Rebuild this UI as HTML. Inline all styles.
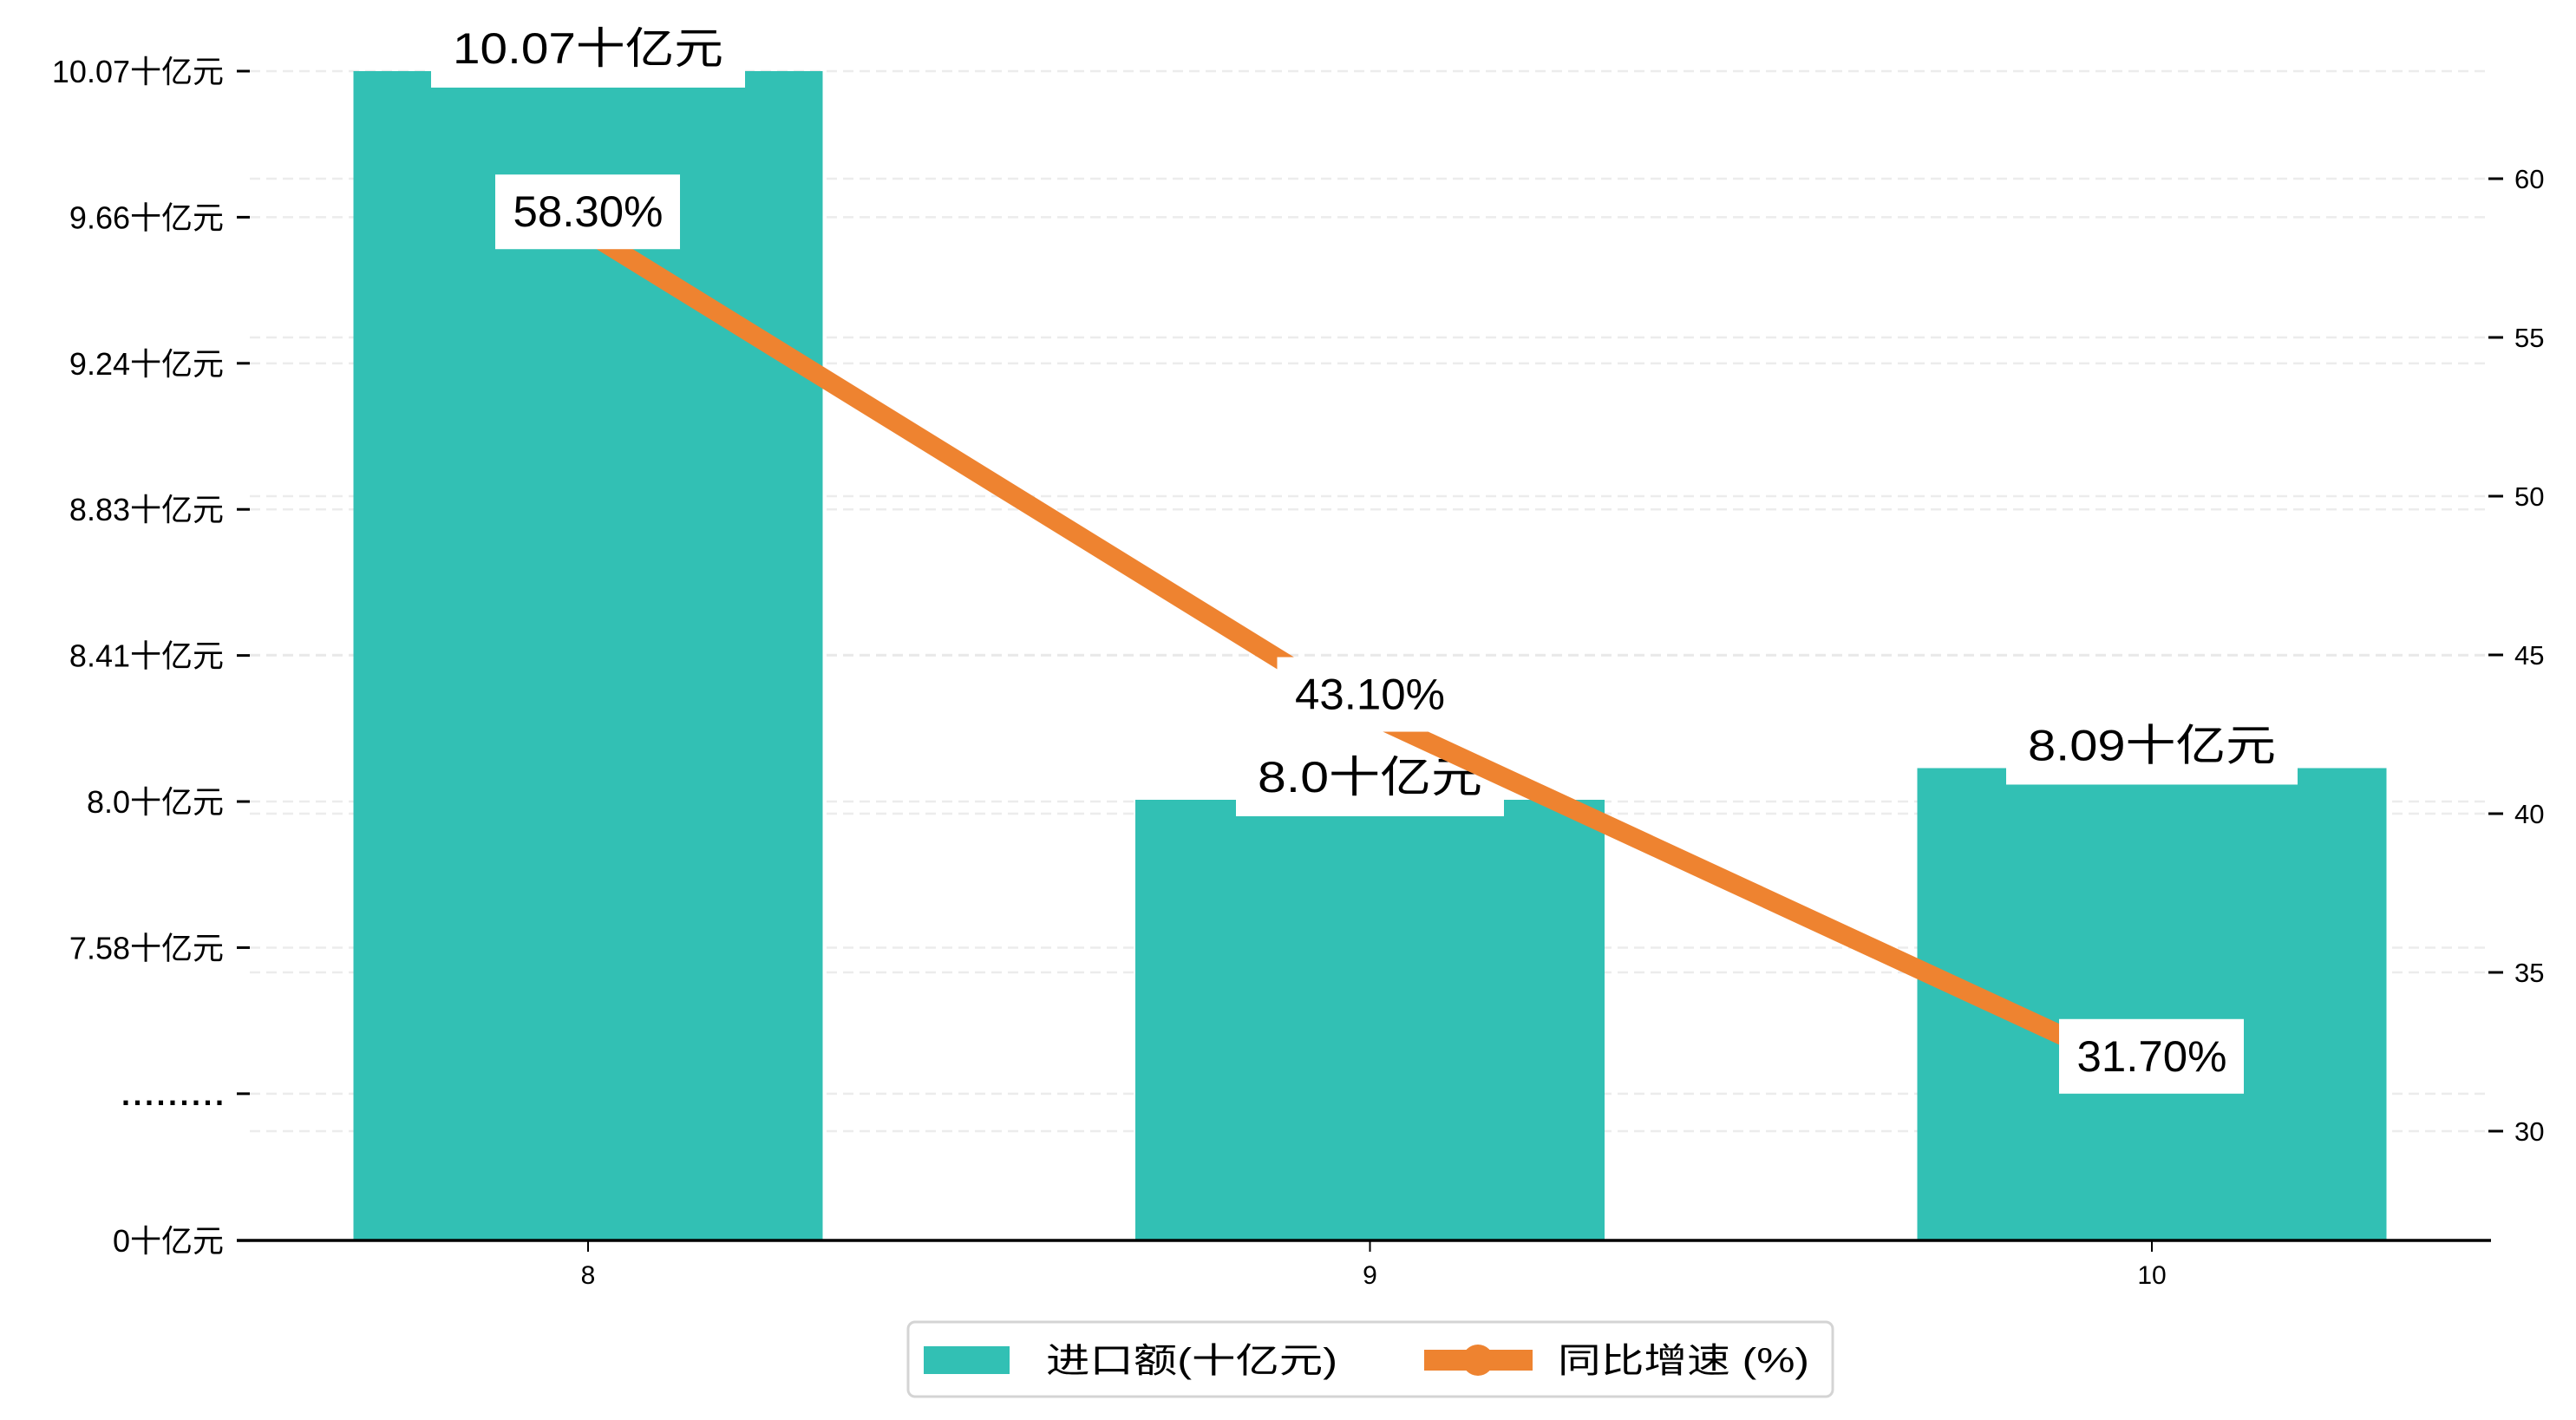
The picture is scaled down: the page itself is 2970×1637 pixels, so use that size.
<!DOCTYPE html>
<html><head><meta charset="utf-8"><style>
html,body{margin:0;padding:0;background:#fff;}
svg text{font-family:"Liberation Sans","Noto Sans CJK SC",sans-serif;fill:#000;}
</style></head><body>
<svg id="chart" xmlns="http://www.w3.org/2000/svg" width="2970" height="1632" viewBox="0 0 2970 1632">
<rect width="2970" height="1632" fill="#fff"/>
<g id="grid"></g><g id="bars"></g><g id="barlabels"></g><g id="line"></g><g id="pctlabels"></g><g id="axes"></g>
<g id="legend">
  <rect x="1047" y="1524" width="1066" height="86" rx="8" fill="#fff" stroke="#d4d4d4" stroke-width="3"/>
  <rect x="1065" y="1552" width="99" height="32" fill="#32C0B4"/>
  <text x="1206" y="1582" font-size="40" textLength="336" lengthAdjust="spacingAndGlyphs">进口额(十亿元)</text>
  <rect x="1642" y="1556" width="125" height="24" fill="#EE8330"/>
  <circle cx="1704" cy="1568" r="18" fill="#EE8330"/>
  <text x="1796" y="1582" font-size="40" textLength="290" lengthAdjust="spacingAndGlyphs">同比增速 (%)</text>
</g>
</svg>
<script>
const categories = ["8","9","10"];
const importValues = [10.07, 8.0, 8.09];
const barValueLabels = ["10.07十亿元","8.0十亿元","8.09十亿元"];
const yoyValues = [58.3, 43.1, 31.7];
const leftTickValues = [10.07, 9.655, 9.24, 8.825, 8.41, 7.995, 7.58, 7.165, 6.748];
const leftTickLabels = ["10.07十亿元","9.66十亿元","9.24十亿元","8.83十亿元","8.41十亿元","8.0十亿元","7.58十亿元",".........","0十亿元"];
const rightTickValues = [30, 35, 40, 45, 50, 55, 60];

const NS="http://www.w3.org/2000/svg";
function mk(tag, attrs, parent){const e=document.createElementNS(NS,tag);for(const k in attrs)e.setAttribute(k,attrs[k]);parent.appendChild(e);return e;}
const xPos = i => 678 + i*901.5;
const yL = v => 82 + (10.07 - v) * 405.8;
const yR = v => 1304 - (v - 30) * 36.6;
const BW = 541, BASE = 1430;
const G=id=>document.getElementById(id);

leftTickValues.slice(0,8).forEach(v=>{
  const l=mk('line',{x1:288,x2:2872,y1:yL(v),y2:yL(v),stroke:'#e8e8e8','stroke-width':2.5,'stroke-dasharray':'12 7',opacity:0.8},G('grid'));
  
  
});
rightTickValues.forEach(v=>{
  const l=mk('line',{x1:288,x2:2872,y1:yR(v),y2:yR(v),stroke:'#e8e8e8','stroke-width':2.5,'stroke-dasharray':'12 7',opacity:0.8},G('grid'));
  
  
});

importValues.forEach((v,i)=>{
  const y=yL(v);
  const r=mk('rect',{x:xPos(i)-BW/2,y:y,width:BW,height:BASE-y,fill:'#32C0B4'},G('bars'));
  
  
});
const barLabelW=[312,259,286];
importValues.forEach((v,i)=>{
  const y=yL(v);
  const w=barLabelW[i]+50;
  mk('rect',{x:xPos(i)-w/2,y:y-57,width:w,height:76,fill:'#fff'},G('barlabels'));
  const t=mk('text',{x:xPos(i),y:y-9,'font-size':50,'text-anchor':'middle',textLength:barLabelW[i],lengthAdjust:'spacingAndGlyphs'},G('barlabels'));
  t.textContent=barValueLabels[i];
  
  
});
const pts=yoyValues.map((v,i)=>xPos(i)+','+yR(v)).join(' ');
const pl=mk('polyline',{points:pts,fill:'none',stroke:'#EE8330','stroke-width':22,'stroke-linejoin':'round'},G('line'));


yoyValues.forEach((v,i)=>{
  const cy=yR(v)-24;
  mk('rect',{x:xPos(i)-107,y:cy-43,width:213,height:86,fill:'#fff'},G('pctlabels'));
  const t=mk('text',{x:xPos(i),y:cy+17,'font-size':50,'text-anchor':'middle',textLength:173,lengthAdjust:'spacingAndGlyphs'},G('pctlabels'));
  t.textContent=v.toFixed(2)+'%';
  
  
});
const ax=G('axes');
mk('line',{x1:273,x2:2872,y1:BASE,y2:BASE,stroke:'#000','stroke-width':3.5},ax);
categories.forEach((c,i)=>{
  mk('line',{x1:xPos(i),x2:xPos(i),y1:BASE,y2:BASE+13,stroke:'#000','stroke-width':2},ax);
  const t=mk('text',{x:xPos(i),y:1480,'font-size':30,'text-anchor':'middle'},ax);
  t.textContent=c;
  
  
});
leftTickValues.forEach((v,i)=>{
  const y=yL(v);
  mk('line',{x1:273,x2:288,y1:y,y2:y,stroke:'#000','stroke-width':3},ax);
  const attrs={x:258,y:y+13,'font-size':36,'text-anchor':'end'};
  if(leftTickLabels[i]==='.........'){attrs.textLength=118;attrs.lengthAdjust='spacing';attrs['font-weight']='bold';}
  const t=mk('text',attrs,ax);
  t.textContent=leftTickLabels[i];
  
  
});
rightTickValues.forEach(v=>{
  const y=yR(v);
  mk('line',{x1:2869,x2:2886,y1:y,y2:y,stroke:'#000','stroke-width':3},ax);
  const t=mk('text',{x:2899,y:y+11,'font-size':31},ax);
  t.textContent=v;
  
  
});
</script>
</body></html>
